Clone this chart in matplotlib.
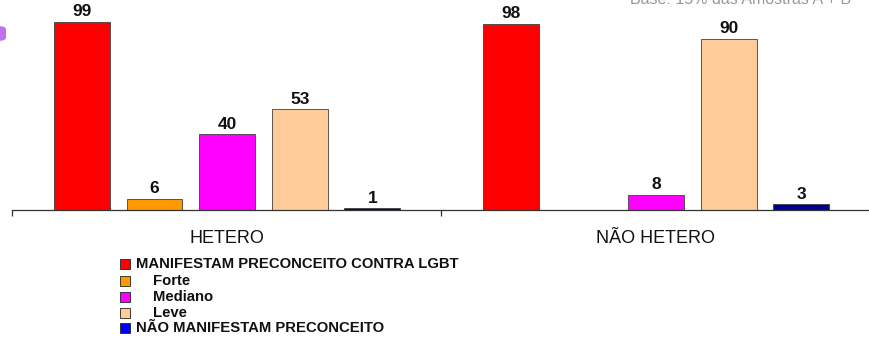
import numpy as np
import matplotlib
matplotlib.use("Agg")
import matplotlib.pyplot as plt
from matplotlib.patches import Rectangle, FancyBboxPatch

plt.rcParams['font.family'] = ['Liberation Sans', 'DejaVu Sans']

groups = ["HETERO", "NÃO HETERO"]
series = ["MANIFESTAM PRECONCEITO CONTRA LGBT", "Forte", "Mediano", "Leve",
          "NÃO MANIFESTAM PRECONCEITO"]
values = {
    "MANIFESTAM PRECONCEITO CONTRA LGBT": [99, 98],
    "Forte": [6, np.nan],
    "Mediano": [40, 8],
    "Leve": [53, 90],
    "NÃO MANIFESTAM PRECONCEITO": [1, 3],
}
colors = ["#FF0000", "#FF9900", "#FF00FF", "#FFCC99", "#000090"]
legend_colors = ["#FF0000", "#FF9900", "#FF00FF", "#FFCC99", "#0000FF"]
indented = [False, True, True, True, False]
base_note = "Base: 15% das Amostras A + B"

W, H = 870, 341
GROUP_PX = 436
fig = plt.figure(figsize=(W / 100, H / 100), dpi=100)
ax = fig.add_axes([12 / W, 131 / H, 1 - 12 / W, 1 - 131 / H])

bar_w = 0.13
offsets = 0.163 + 0.1692 * np.arange(len(series))
for i, name in enumerate(series):
    vals = np.array(values[name], dtype=float)
    xs = np.arange(len(groups)) + offsets[i]
    ax.bar(xs, np.nan_to_num(vals), width=bar_w, color=colors[i],
           edgecolor="#404040", linewidth=0.6, zorder=2)
    for x, v in zip(xs, vals):
        if not np.isnan(v):
            ax.text(x, v + 1.3, f"{v:.0f}", ha="center", va="bottom",
                    fontsize=12.5, fontweight="bold", color="#111111")

ax.set_xlim(0, (W - 12) / GROUP_PX)
ax.set_ylim(0, 110.5)
for s in ["top", "right", "left"]:
    ax.spines[s].set_visible(False)
ax.spines["bottom"].set_color("#333333")
ax.spines["bottom"].set_linewidth(0.9)
ax.set_yticks([])
ax.set_xticks([0, 1, 2])
ax.set_xticklabels([])
ax.tick_params(axis="x", length=4, width=0.9, color="#333333", direction="out")
ax.patch.set_alpha(0)

for g, name in enumerate(groups):
    ax.text(g + 0.5, -15, name, ha="center", va="center", fontsize=13,
            color="#111111", transform=ax.transData, clip_on=False)

# legend drawn by hand so the sub-levels can be indented
rows_y = [264, 281, 297, 313, 328]
for name, col, ind, y in zip(series, legend_colors, indented, rows_y):
    fig.patches.append(Rectangle((120 / W, 1 - (y + 5) / H), 10 / W, 10 / H,
                                 transform=fig.transFigure, facecolor=col,
                                 edgecolor="#222222", linewidth=0.6))
    fig.text((153 if ind else 136) / W, 1 - y / H, name, ha="left", va="center",
             fontsize=10.7, fontweight="bold", color="#111111")

fig.text(851 / W, 1 + 1 / H, base_note, ha="right", va="center",
         fontsize=11.5, color="#999999")

fig.patches.append(FancyBboxPatch((-8 / W, 1 - 41 / H), 14 / W, 15 / H,
                                  boxstyle="round,pad=0,rounding_size=0.01",
                                  transform=fig.transFigure,
                                  facecolor="#C070F0", edgecolor="none"))

fig.savefig("out.png", dpi=100)
